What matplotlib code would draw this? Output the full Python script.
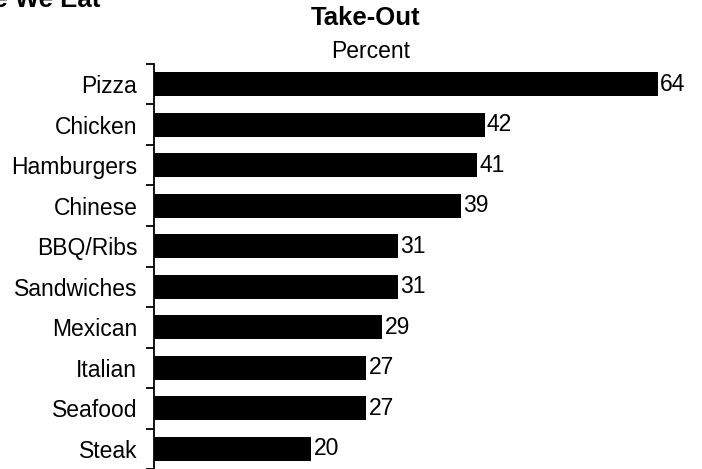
import numpy as np
import matplotlib.pyplot as plt

# данные
categories = ['Pizza', 'Chicken', 'Hamburgers', 'Chinese', 'BBQ/Ribs',
              'Sandwiches', 'Mexican', 'Italian', 'Seafood', 'Steak']
percent = [64, 42, 41, 39, 31, 31, 29, 27, 27, 20]

plt.rcParams['font.family'] = ['Liberation Sans', 'DejaVu Sans']

W, H = 702, 469
fig = plt.figure(figsize=(W / 100, H / 100), dpi=100)

# ось: левая граница на x=154px, верх на y=64px
ax = fig.add_axes([154 / W, 0, 1 - 154 / W, 1 - 64 / H])
y = np.arange(len(categories))
ax.barh(y, percent, height=0.6, color='black')

ax.set_xlim(0, (W - 154) / 7.87)
ax.set_ylim(9.28, -0.5)

# подписи значений
for yi, v in zip(y, percent):
    ax.text(v + 0.3, yi, str(v), va='center', ha='left', fontsize=16.5)

# деления между столбцами
ax.set_yticks(y)
ax.set_yticklabels(categories, fontsize=16.5)
ax.tick_params(axis='y', which='major', length=0, pad=12)
ax.set_yticks(np.arange(-0.5, 10, 1), minor=True)
ax.tick_params(axis='y', which='minor', length=6, width=1.3, direction='out')
ax.set_xticks([])
for s in ['top', 'right', 'bottom']:
    ax.spines[s].set_visible(False)
ax.spines['left'].set_linewidth(1.3)

# заголовки
fig.text(366 / W, 1 - 18 / H, 'Take-Out', ha='center', va='center',
         fontsize=18.5, fontweight='bold')
fig.text(371 / W, 1 - 58 / H, 'Percent', ha='center', va='baseline',
         fontsize=16.5)
fig.text(100 / W, 1 - 7 / H, 'Where We Eat', ha='right', va='baseline',
         fontsize=18.5, fontweight='bold')

fig.savefig('out.png', dpi=100)
